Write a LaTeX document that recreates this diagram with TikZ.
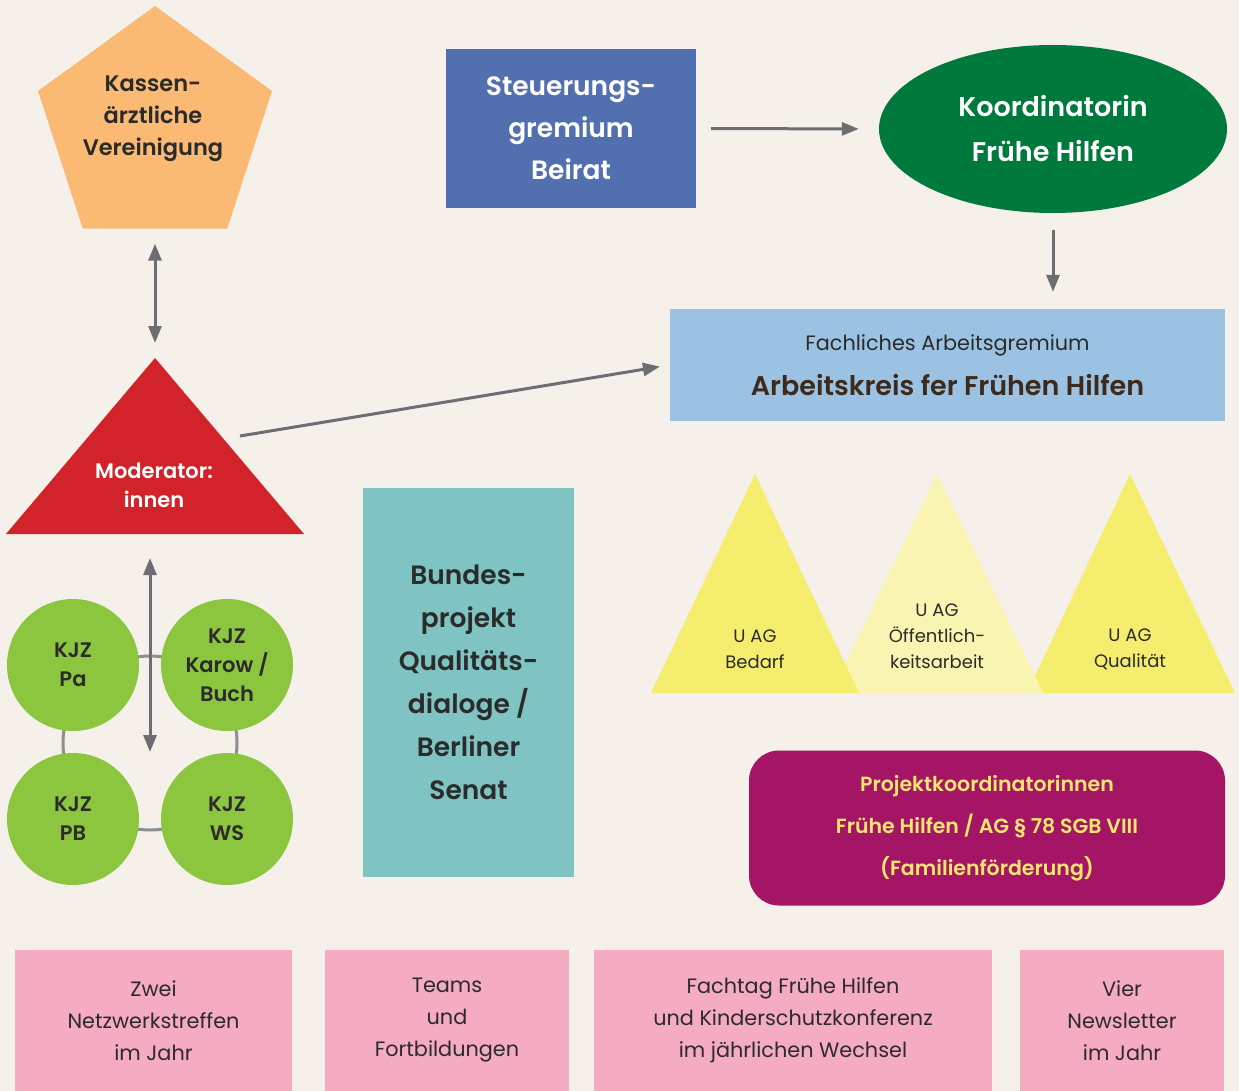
\documentclass[tikz,border=0pt]{standalone}
\usepackage{fontspec}
\setmainfont{Poppins}[BoldFont={Poppins SemiBold}]
\usetikzlibrary{shapes.geometric,arrows.meta}

\definecolor{bgbeige}{HTML}{F5F0EA}
\definecolor{kvorange}{HTML}{FBBA73}
\definecolor{modred}{HTML}{D2232A}
\definecolor{steuerblue}{HTML}{5270B0}
\definecolor{koordgreen}{HTML}{007A3C}
\definecolor{akblue}{HTML}{9CC2E3}
\definecolor{uagyellow}{HTML}{F5ED6E}
\definecolor{uaglight}{HTML}{FAF4B2}
\definecolor{bundteal}{HTML}{7FC4C2}
\definecolor{projpurple}{HTML}{A51565}
\definecolor{projtext}{HTML}{F5E66E}
\definecolor{pinkbox}{HTML}{F5ABC1}
\definecolor{kjzgreen}{HTML}{8CC63F}
\definecolor{arrowgray}{HTML}{6D6E71}
\definecolor{ringgray}{HTML}{8E8F92}
\definecolor{darktext}{HTML}{2B2B2B}
\definecolor{browntext}{HTML}{3C2A1C}

\begin{document}
\begin{tikzpicture}[x=1pt,y=-1pt,>={Triangle[length=17pt,width=13pt]},
  conn/.style={draw=arrowgray,line width=3pt},
  boldtxt/.style={align=center,text=darktext,font=\bfseries},
  kjz/.style={circle,fill=kjzgreen,minimum size=132pt,inner sep=0pt,align=center,
    text=darktext,font=\bfseries\fontsize{21}{29}\selectfont},
  pinkbox/.style={fill=pinkbox,inner sep=0pt,align=center,minimum height=141pt,
    text=darktext,font=\fontsize{20.8}{32}\selectfont},
  uag/.style={align=center,text=darktext,font=\fontsize{18}{26}\selectfont}]

\useasboundingbox (0,0) rectangle (1239,1091);
\fill [bgbeige] (0,0) rectangle (1239,1091);

% top left
\node [regular polygon,regular polygon sides=5,fill=kvorange,minimum size=246pt,inner sep=0pt] at (155,129) (kv) {};
\node [boldtxt,font=\bfseries\fontsize{22.5}{32}\selectfont] at (153,119) (kvtext) {Kassen-\\ärztliche\\Vereinigung};

\coordinate (modtop) at (155,358);
\coordinate (modright) at (304,534);
\coordinate (modleft) at (6,534);
\fill [modred] (modtop) -- (modright) -- (modleft) -- cycle;
\node [align=center,text=white,font=\bfseries\fontsize{21}{29}\selectfont] at (154,485) (mod) {Moderator:\\innen};

% top row
\node [fill=steuerblue,minimum width=250pt,minimum height=159pt,inner sep=0pt,align=center,
  text=white,font=\bfseries\fontsize{26.5}{42}\selectfont] at (571,128.5) (steuer) {Steuerungs-\\gremium\\Beirat};
\node [ellipse,fill=koordgreen,minimum width=348pt,minimum height=168pt,inner sep=0pt,align=center,
  text=white,font=\bfseries\fontsize{27}{45}\selectfont] at (1053,129) (koord) {Koordinatorin\\Frühe Hilfen};

\node [fill=akblue,minimum width=555pt,minimum height=112pt,inner sep=0pt,align=center,
  text=darktext,font=\fontsize{20.8}{45}\selectfont] at (947.5,365) (ak)
  {Fachliches Arbeitsgremium\\{\color{browntext}\bfseries\fontsize{27}{45}\selectfont Arbeitskreis fer Frühen Hilfen}};

% U AGs
\coordinate (uagc) at (1130,474);
\coordinate (uagb) at (937,474);
\coordinate (uaga) at (755,474);
\fill [uagyellow] (uagc) -- (1235,693) -- (1027,693) -- cycle;
\fill [uaglight] (uagb) -- (1043,693) -- (831,693) -- cycle;
\fill [uagyellow] (uaga) -- (859,693) -- (651,693) -- cycle;
\node [uag] at (755,649) (uagbedarf) {U AG\\Bedarf};
\node [uag] at (937,636) (uagoeff) {U AG\\Öffentlich-\\keitsarbeit};
\node [uag] at (1130,649) (uagqual) {U AG\\Qualität};

% middle
\node [fill=bundteal,minimum width=211pt,minimum height=389pt,inner sep=0pt,align=center,
  text=darktext,font=\bfseries\fontsize{26.5}{43}\selectfont] at (468.5,682.5) (bund)
  {Bundes-\\projekt\\Qualitäts-\\dialoge /\\Berliner\\Senat};

\node [fill=projpurple,rounded corners=30pt,minimum width=476pt,minimum height=155pt,inner sep=0pt,
  align=center,text=projtext,font=\bfseries\fontsize{20.5}{42}\selectfont] at (987,828) (proj)
  {Projektkoordinatorinnen\\Frühe Hilfen / AG § 78 SGB VIII\\(Familienförderung)};

% KJZ
\node [circle,draw=ringgray,line width=3pt,minimum size=174pt,inner sep=0pt] at (150,743) (ring) {};
\node [kjz] at (73,665) (kjzpa) {KJZ\\Pa};
\node [kjz] at (227,665) (kjzkb) {KJZ\\Karow /\\Buch};
\node [kjz] at (73,819) (kjzpb) {KJZ\\PB};
\node [kjz] at (227,819) (kjzws) {KJZ\\WS};

\coordinate (kjztop) at (150,558);
\coordinate (kjzmid) at (150,752);
\coordinate (modarrow) at (240,436);

% arrows
\draw [<->,conn,shorten <=15pt,shorten >=15pt] (kv.south) -- (modtop);
\draw [<->,conn] (kjztop) -- (kjzmid);
\draw [->,conn,shorten >=10pt] (modarrow) -- (ak.west);
\draw [->,conn,shorten <=15pt,shorten >=20pt] (steuer.east) -- (koord.west);
\draw [->,conn,shorten <=17pt,shorten >=17pt] (koord.south) -- (koord.south |- ak.north);

% bottom row
\node [pinkbox,minimum width=277pt] at (153.5,1020.5) (treffen) {Zwei\\Netzwerkstreffen\\im Jahr};
\node [pinkbox,minimum width=244pt] at (447,1020.5) (teams) {Teams\\und\\Fortbildungen};
\node [pinkbox,minimum width=398pt] at (793,1020.5) (fachtag) {Fachtag Frühe Hilfen\\und Kinderschutzkonferenz\\im jährlichen Wechsel};
\node [pinkbox,minimum width=204pt] at (1122,1020.5) (news) {Vier\\Newsletter\\im Jahr};

\end{tikzpicture}
\end{document}
